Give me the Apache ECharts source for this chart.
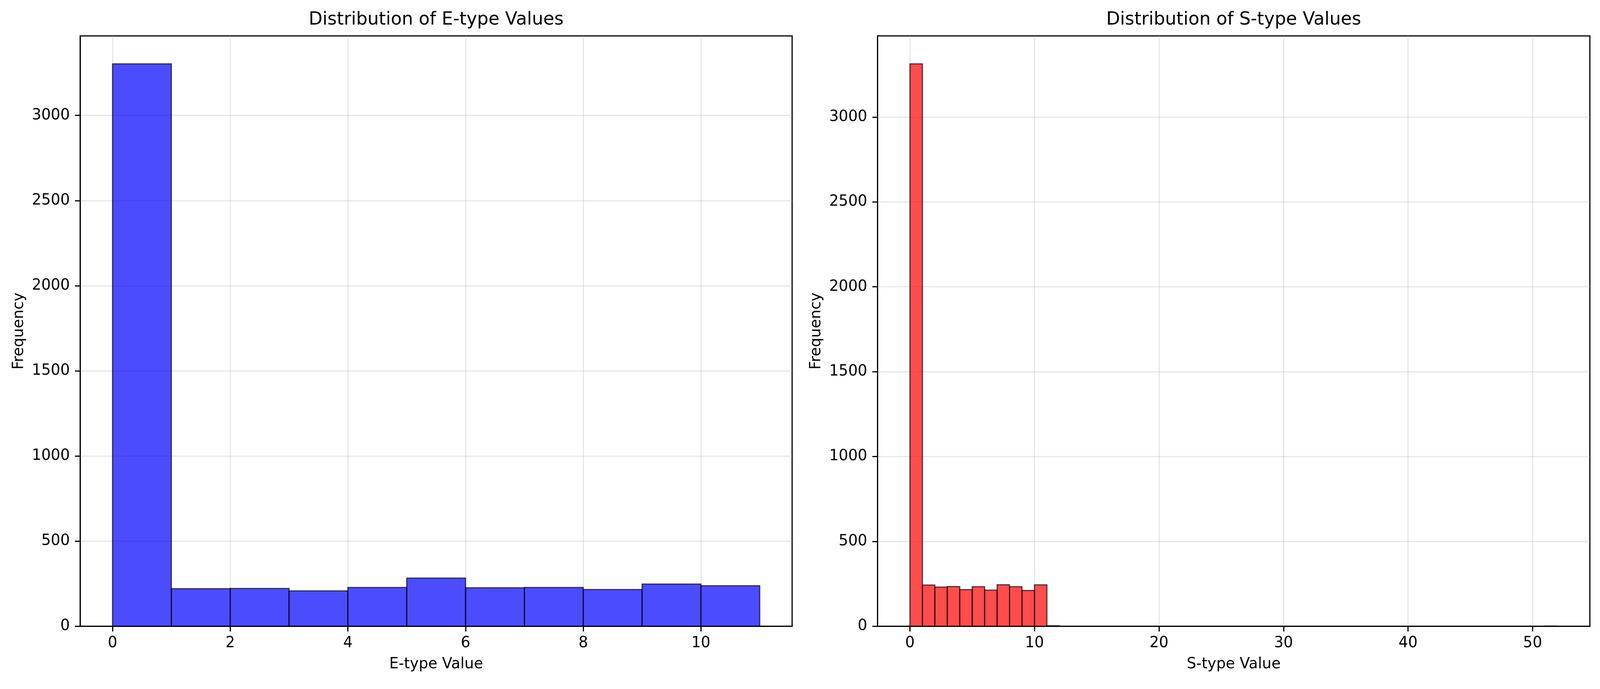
<!DOCTYPE html>
<html>
<head>
<meta charset="utf-8">
<script src="https://cdn.jsdelivr.net/npm/echarts@6/dist/echarts.min.js"></script>
<style>
html,body{margin:0;padding:0;background:#fff;overflow:hidden;}
#chart{width:100vw;height:100vh;}
</style>
</head>
<body>
<div id="chart"></div>
<script>
// ---- data ----
const eEdges = [0,1,2,3,4,5,6,7,8,9,10,11];
const eCounts = [3303, 221, 222, 208, 228, 283, 226, 228, 216, 248, 238];

const sEdges = Array.from({length: 53}, (_, i) => i); // bin edges 0..52 (width 1)
const sCounts = [3313, 243, 231, 234, 216, 233, 213, 245, 233, 211, 244, 3,
  0,0,0,0,0,0,0,0,0,0,0,0,0,0,0,0,0,0,0,0,0,0,0,0,0,0,0,0,0,0,0,0,0,0,0,0,0,0,0,1];

const eTicks = [0, 2, 4, 6, 8, 10];
const sTicks = [0, 10, 20, 30, 40, 50];
const yTicks = [0, 500, 1000, 1500, 2000, 2500, 3000];

const titles = ['Distribution of E-type Values', 'Distribution of S-type Values'];
const xNames = ['E-type Value', 'S-type Value'];
const yName = 'Frequency';

// ---- scale to the actual viewport (design size 4470 x 1765) ----
const W = window.innerWidth || 4470, H = window.innerHeight || 1765;
const sx = W / 4470, sy = H / 1765, s = Math.min(sx, sy);

// ---- styles ----
const FONT = 'DejaVu Sans';
const TICK_FS = 41.7 * s;
const LW = 3.3 * s;
const gridColor = 'rgba(176,176,176,0.3)';

function histData(edges, counts) {
  return counts.map((c, i) => [edges[i], edges[i + 1], c]);
}

function makeRender(fill) {
  return function (params, api) {
    const x0 = api.value(0), x1 = api.value(1), y = api.value(2);
    const p0 = api.coord([x0, y]);
    const p1 = api.coord([x1, 0]);
    return {
      type: 'rect',
      shape: { x: p0[0], y: p0[1], width: p1[0] - p0[0], height: p1[1] - p0[1] },
      style: { fill: fill, stroke: 'rgba(0,0,0,0.7)', lineWidth: 3 * s }
    };
  };
}

function xAxisCfg(idx, min, max, ticks, name) {
  return {
    type: 'value', gridIndex: idx, min: min, max: max,
    name: name, nameLocation: 'middle', nameGap: 86 * s,
    nameTextStyle: { fontFamily: FONT, fontSize: TICK_FS, color: '#000' },
    axisLine: { show: true, onZero: false, lineStyle: { color: '#000', width: LW } },
    axisTick: { show: true, length: 14.6 * s, customValues: ticks, lineStyle: { color: '#000', width: LW } },
    axisLabel: { show: true, customValues: ticks, margin: 27 * s, fontFamily: FONT, fontSize: TICK_FS, color: '#000',
      formatter: v => String(v) },
    splitLine: { show: true, lineStyle: { color: gridColor, width: LW } }
  };
}

function yAxisCfg(idx, max) {
  return {
    type: 'value', gridIndex: idx, min: 0, max: max,
    name: yName, nameLocation: 'middle', nameGap: 150 * s,
    nameTextStyle: { fontFamily: FONT, fontSize: TICK_FS, color: '#000' },
    axisLine: { show: true, onZero: false, lineStyle: { color: '#000', width: LW } },
    axisTick: { show: true, length: 14.6 * s, customValues: yTicks, lineStyle: { color: '#000', width: LW } },
    axisLabel: { show: true, customValues: yTicks, margin: 29 * s, fontFamily: FONT, fontSize: TICK_FS, color: '#000',
      formatter: v => String(v) },
    splitLine: { show: true, lineStyle: { color: gridColor, width: LW } }
  };
}

const grids = [
  { left: 224 * sx, top: 92 * sy, width: 1989 * sx, height: 1512.3 * sy },
  { left: 2451.7 * sx, top: 92 * sy, width: 1990 * sx, height: 1512.3 * sy }
];

const chart = echarts.init(document.getElementById('chart'), null, { renderer: 'canvas', width: W, height: H });
chart.setOption({
  backgroundColor: '#fff',
  animation: false,
  grid: grids.map(g => Object.assign({ show: true, borderColor: '#000', borderWidth: LW, backgroundColor: 'transparent', containLabel: false }, g)),
  xAxis: [
    xAxisCfg(0, -0.55, 11.55, eTicks, xNames[0]),
    xAxisCfg(1, -2.6, 54.6, sTicks, xNames[1])
  ],
  yAxis: [
    yAxisCfg(0, 3467),
    yAxisCfg(1, 3478)
  ],
  series: [
    { type: 'custom', xAxisIndex: 0, yAxisIndex: 0, renderItem: makeRender('rgba(0,0,255,0.7)'),
      encode: { x: [0, 1], y: 2 }, data: histData(eEdges, eCounts), z: 2 },
    { type: 'custom', xAxisIndex: 1, yAxisIndex: 1, renderItem: makeRender('rgba(255,0,0,0.7)'),
      encode: { x: [0, 1], y: 2 }, data: histData(sEdges, sCounts), z: 2 }
  ],
  graphic: [
    { type: 'text', x: (224 + 1989 / 2) * sx, y: 51 * sy,
      style: { text: titles[0], fontFamily: FONT, fontSize: 50 * s, fill: '#000', textAlign: 'center', textVerticalAlign: 'middle' } },
    { type: 'text', x: (2451.7 + 1990 / 2) * sx, y: 51 * sy,
      style: { text: titles[1], fontFamily: FONT, fontSize: 50 * s, fill: '#000', textAlign: 'center', textVerticalAlign: 'middle' } }
  ]
});
</script>
</body>
</html>
